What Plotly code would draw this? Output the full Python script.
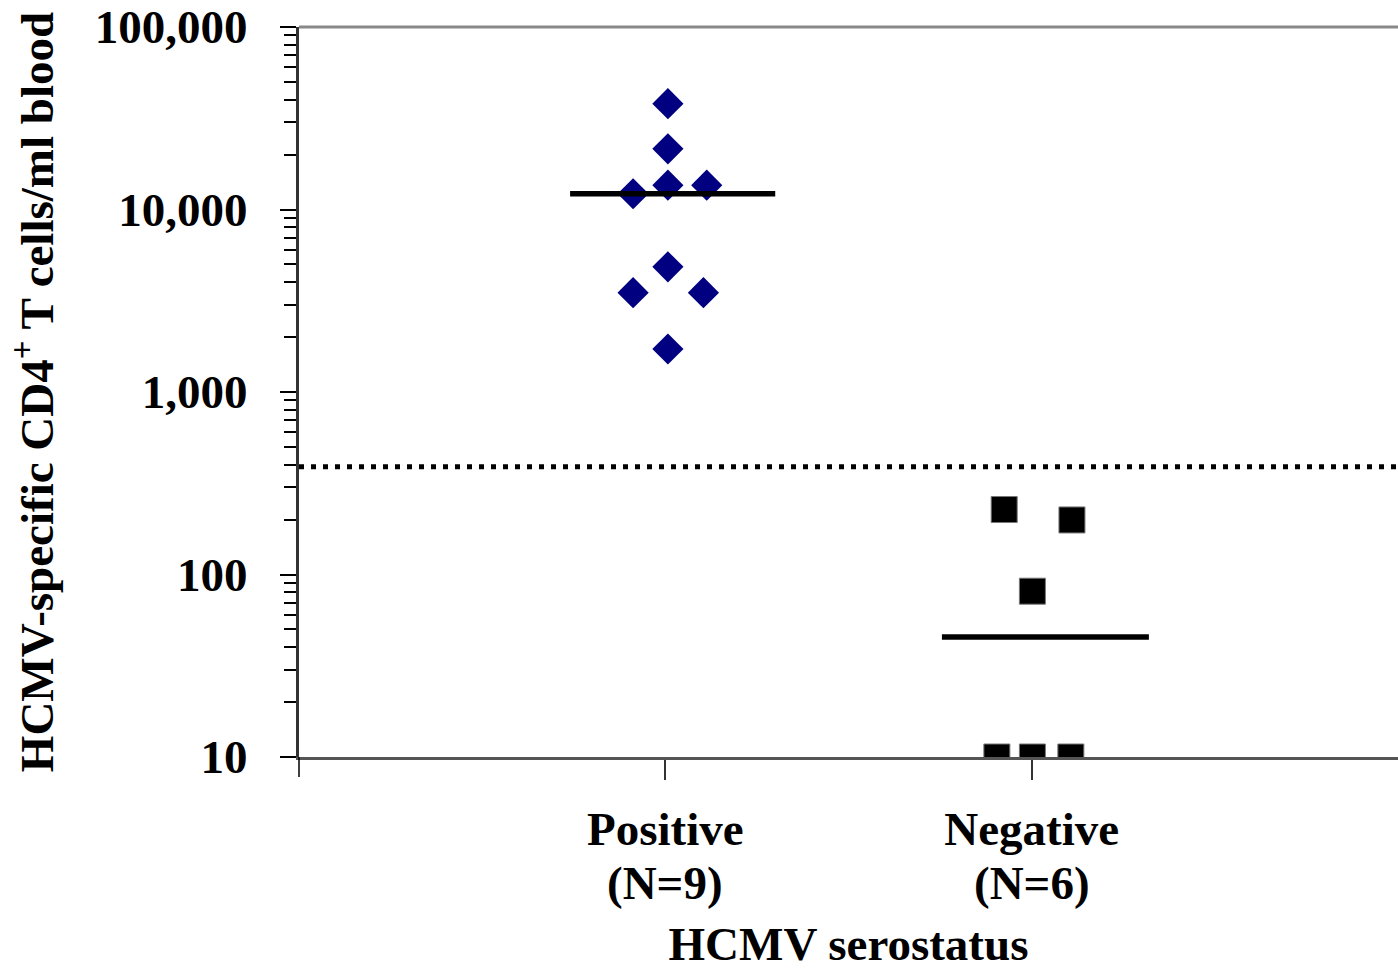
import numpy as np
import plotly.graph_objects as go

# ---- data ----
categories = ["Positive", "Negative"]
group_n = ["(N=9)", "(N=6)"]
positive_values = [38000, 21500, 13600, 13600, 12200, 4850, 3500, 3500, 1720]
negative_values = [227, 199, 81, 10, 10, 10]
detection_limit = 390
y_tickvals = [10, 100, 1000, 10000, 100000]
y_ticktext = ["10", "100", "1,000", "10,000", "100,000"]

# horizontal scatter positions (jitter) within each category
positive_x = [1.007, 1.007, 1.007, 1.113, 0.912, 1.007, 0.912, 1.104, 1.007]
negative_x = [1.925, 2.110, 2.002, 1.905, 2.002, 2.107]

FONT = "Liberation Serif, Times New Roman, serif"
FS = 47

pos_med = float(np.median(positive_values))
neg_med = float(np.median(negative_values))

fig = go.Figure()

# detection limit (dotted)
fig.add_trace(go.Scatter(x=[0, 3], y=[detection_limit, detection_limit], mode="lines",
                         line=dict(color="black", width=5, dash="5px,7px"),
                         hoverinfo="skip", showlegend=False))

fig.add_trace(go.Scatter(x=positive_x, y=positive_values, mode="markers",
                         marker=dict(symbol="diamond", size=24, color="#000080",
                                     line=dict(width=0)),
                         showlegend=False, name="Positive"))
fig.add_trace(go.Scatter(x=negative_x, y=negative_values, mode="markers",
                         marker=dict(symbol="square", size=26, color="black",
                                     line=dict(width=1, color="#777")),
                         showlegend=False, name="Negative"))

# median lines
fig.add_trace(go.Scatter(x=[0.74, 1.30], y=[pos_med, pos_med], mode="lines",
                         line=dict(color="black", width=5.5), showlegend=False, hoverinfo="skip"))
fig.add_trace(go.Scatter(x=[1.755, 2.32], y=[neg_med, neg_med], mode="lines",
                         line=dict(color="black", width=5.5), showlegend=False, hoverinfo="skip"))

fig.update_layout(
    width=1398, height=970,
    margin=dict(l=299, r=0, t=27, b=213, autoexpand=False),
    paper_bgcolor="white", plot_bgcolor="white",
    font=dict(family=FONT, size=FS, color="black"),
    showlegend=False,
)

fig.update_xaxes(
    range=[0, 3], showgrid=False, zeroline=False,
    showline=True, linecolor="#555", linewidth=3,
    tickmode="array", tickvals=[1, 2], ticktext=categories,
    ticks="outside", ticklen=20, tickwidth=1.5, tickcolor="#333",
    tickfont=dict(family=FONT, size=FS, weight="bold"),
    ticklabelstandoff=9,
    title=dict(text="HCMV serostatus", font=dict(family=FONT, size=FS, weight="bold"), standoff=82),
)

fig.update_yaxes(
    type="log", range=[1, 5], showgrid=False, zeroline=False,
    showline=True, linecolor="#333", linewidth=3,
    tickmode="array", tickvals=y_tickvals, ticktext=y_ticktext,
    ticks="outside", ticklen=16, tickwidth=1.5, tickcolor="black",
    tickfont=dict(family=FONT, size=FS, weight="bold"),
    ticklabelstandoff=23,
    minor=dict(ticks="outside", ticklen=12, tickwidth=1.5, tickcolor="black",
               dtick="D1", showgrid=False),
    title=dict(text="HCMV-specific CD4<sup>+</sup> T cells/ml blood",
               font=dict(family=FONT, size=FS, weight="bold"), standoff=27),
)

# top border
fig.add_shape(type="line", xref="paper", yref="paper", x0=0, x1=1, y0=1, y1=1,
              line=dict(color="#888", width=3))
# y-axis line extension below the x axis (corner tick)
fig.add_shape(type="line", xref="paper", yref="paper", x0=0, x1=0, y0=0, y1=-20 / 730,
              line=dict(color="black", width=1.5))

# group size labels under category names
for xv, txt in zip([1, 2], group_n):
    fig.add_annotation(x=xv, xref="x", y=-0.172, yref="paper", text=txt, showarrow=False,
                       yanchor="middle", font=dict(family=FONT, size=FS, weight="bold"))

fig.write_html("out.html")
